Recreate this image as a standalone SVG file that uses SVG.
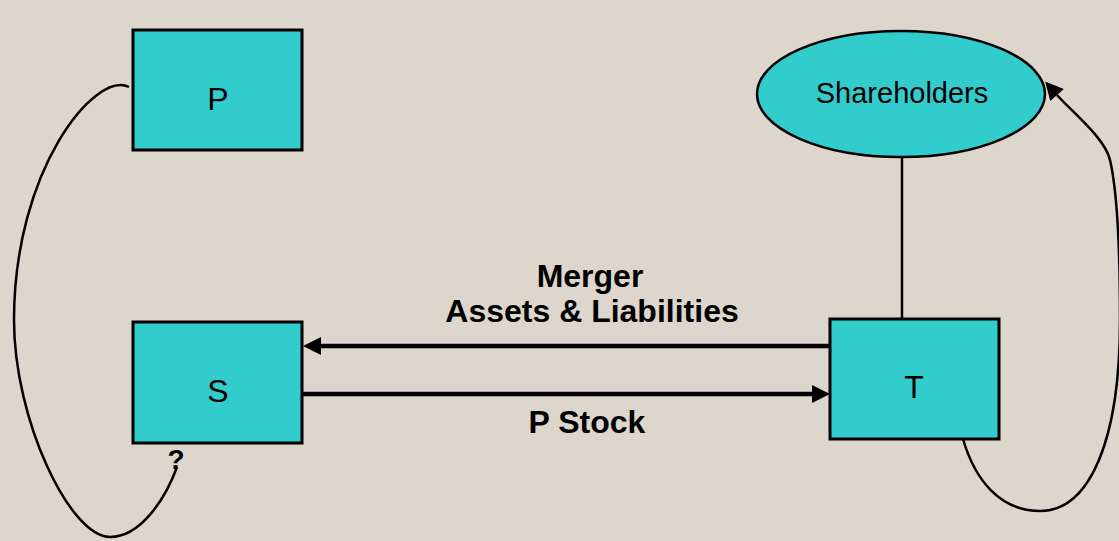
<svg xmlns="http://www.w3.org/2000/svg" width="1119" height="541" viewBox="0 0 1119 541">
  <style>
    .box { fill: #33CCCC; stroke: #000; stroke-width: 3; }
    .oval { fill: #33CCCC; stroke: #000; stroke-width: 2.5; }
    .name { font-family: "Liberation Sans", Arial, sans-serif; font-size: 32px; fill: #000; text-anchor: middle; }
    .label { font-family: "Liberation Sans", Arial, sans-serif; font-size: 32px; font-weight: bold; fill: #000; text-anchor: middle; }
    .flow { fill: none; stroke: #000; stroke-width: 4.5; }
    .thin { fill: none; stroke: #000; stroke-width: 2.5; }
  </style>
  <defs>
    <marker id="head" markerUnits="userSpaceOnUse" markerWidth="18" markerHeight="18" viewBox="0 0 18 18" refX="0" refY="9" orient="auto" overflow="visible">
      <path d="M0,0 L18,9 L0,18 Z" fill="#000"/>
    </marker>
  </defs>

  <rect width="1119" height="541" fill="#DDD6CC"/>

  <!-- connectors -->
  <g id="connectors">
    <line class="thin" x1="902" y1="157" x2="902" y2="320"/>
    <path class="flow" d="M830,346 H321" marker-end="url(#head)"/>
    <path class="flow" d="M303,394 H812" marker-end="url(#head)"/>
    <path class="thin" d="M129,87 C95,70 14,170 14,320 C14,420 70,537 110,537 C140,537 165,500 177,467"/>
    <path class="thin" d="M963,439 C975,480 1000,511 1040,511 C1090,511 1120,440 1120,320 C1120,250 1117,190 1110,160 C1105,138 1072,112 1057,95" marker-end="url(#head)"/>
  </g>

  <g id="node-p">
    <rect class="box" x="133" y="30" width="169" height="120"/>
    <text class="name" x="218" y="110">P</text>
  </g>

  <g id="node-s">
    <rect class="box" x="133" y="322" width="169" height="121"/>
    <text class="name" x="218" y="402">S</text>
    <text class="label" x="176" y="469" style="font-size:28px">?</text>
  </g>

  <g id="node-t">
    <rect class="box" x="830" y="319" width="169" height="120"/>
    <text class="name" x="914" y="398">T</text>
  </g>

  <g id="node-shareholders">
    <ellipse class="oval" cx="901" cy="94" rx="144" ry="63"/>
    <text class="name" x="902" y="103" style="font-size:29px">Shareholders</text>
  </g>

  <g id="labels">
    <text class="label" x="590" y="287">Merger</text>
    <text class="label" x="592" y="322">Assets &amp; Liabilities</text>
    <text class="label" x="587" y="433">P Stock</text>
  </g>
</svg>
